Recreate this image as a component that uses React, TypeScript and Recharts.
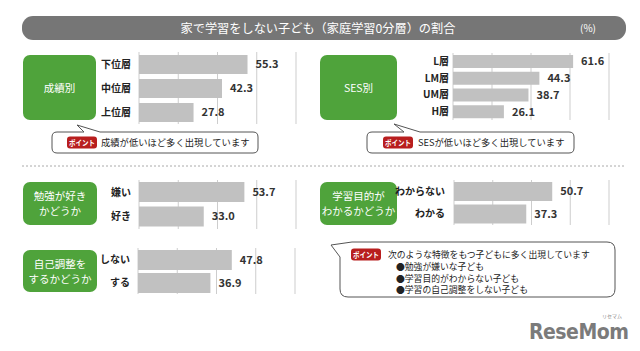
import { BarChart, Bar, XAxis, YAxis, CartesianGrid, LabelList } from 'recharts'

const gradeLabels = ['下位層', '中位層', '上位層']
const gradeValues = [55.3, 42.3, 27.8]

const sesLabels = ['L層', 'LM層', 'UM層', 'H層']
const sesValues = [61.6, 44.3, 38.7, 26.1]

const likeLabels = ['嫌い', '好き']
const likeValues = [53.7, 33.0]

const purposeLabels = ['わからない', 'わかる']
const purposeValues = [50.7, 37.3]

const selfLabels = ['しない', 'する']
const selfValues = [47.8, 36.9]

const axisTicks = [0, 20, 40, 60, 80]
const axisMax = 80

const GREEN = '#4fa33b'
const FONT = "'Noto Sans CJK JP', 'Noto Sans', sans-serif"

interface PanelProps {
  labels: string[]
  values: number[]
  x: number
  y: number
  h: number
  plotW: number
  barSize: number
  labelGap: number
}

// vertical grid at every tick, through the x axis scale (falls back to the plot box)
const gridX = (props: any) => {
  const sc = props?.xAxis?.scale
  if (typeof sc === 'function') {
    const pts = axisTicks.map((t) => sc(t))
    if (pts.every((p) => Number.isFinite(p))) return pts
  }
  const off = props.offset
  return axisTicks.map((t) => off.left + (t / axisMax) * off.width)
}

const BlankTick = () => <g />

function Panel({ labels, values, x, y, h, plotW, barSize, labelGap }: PanelProps) {
  const data = labels.map((name, i) => ({ name, value: values[i] }))
  const yW = 70
  return (
    <div style={{ position: 'absolute', left: x - yW, top: y }}>
      <BarChart
        width={yW + plotW + 40}
        height={h}
        data={data}
        layout="vertical"
        margin={{ top: 0, right: 40, bottom: 0, left: 0 }}
      >
        <CartesianGrid horizontal={false} stroke="#cdcdcd" verticalCoordinatesGenerator={gridX} />
        <XAxis
          type="number"
          domain={[0, axisMax]}
          ticks={axisTicks}
          interval={0}
          height={0}
          tick={BlankTick}
          axisLine={false}
          tickLine={false}
        />
        <YAxis
          type="category"
          dataKey="name"
          width={yW}
          interval={0}
          axisLine={false}
          tickLine={false}
          tickSize={0}
          tickMargin={labelGap}
          tick={{ fontSize: 10, fill: '#222', fontWeight: 700 }}
        />
        <Bar dataKey="value" fill="#c1c1c1" barSize={barSize} isAnimationActive={false}>
          <LabelList
            dataKey="value"
            position="right"
            offset={8}
            formatter={(v: any) => Number(v).toFixed(1)}
            style={{ fontSize: 11, fontWeight: 700, fill: '#333' }}
          />
        </Bar>
      </BarChart>
    </div>
  )
}

function roundedTopTail(x: number, y: number, w: number, h: number, r: number, t1: number, tx: number, ty: number, t2: number) {
  return `M ${x + r} ${y} L ${t1} ${y} L ${tx} ${ty} L ${t2} ${y} L ${x + w - r} ${y} Q ${x + w} ${y} ${x + w} ${y + r} L ${x + w} ${y + h - r} Q ${x + w} ${y + h} ${x + w - r} ${y + h} L ${x + r} ${y + h} Q ${x} ${y + h} ${x} ${y + h - r} L ${x} ${y + r} Q ${x} ${y} ${x + r} ${y} Z`
}

function Pill({ x, y }: { x: number; y: number }) {
  return (
    <g>
      <rect x={x} y={y} width={30} height={12} rx={3} fill="#b81e1e" />
      <text x={x + 2} y={y + 9} fontSize={7.5} fontWeight={700} fill="#fff" textLength={26} lengthAdjust="spacingAndGlyphs">ポイント</text>
    </g>
  )
}

function GreenBox({ x, y, w, h, lines }: { x: number; y: number; w: number; h: number; lines: string[] }) {
  const cy = y + h / 2
  const lh = 15
  return (
    <g>
      <rect x={x} y={y} width={w} height={h} rx={7} fill={GREEN} />
      {lines.map((t, i) => (
        <text key={i} x={x + w / 2} y={cy + (i - (lines.length - 1) / 2) * lh + 4} textAnchor="middle" fontSize={10.5} fill="#fff">
          {t}
        </text>
      ))}
    </g>
  )
}

export default function App() {
  const c3x = 340
  const c3y = 242
  const c3w = 275
  const c3h = 55
  const r3 = 8
  const callout3 = `M 352 ${c3y} L ${c3x + c3w - r3} ${c3y} Q ${c3x + c3w} ${c3y} ${c3x + c3w} ${c3y + r3} L ${c3x + c3w} ${c3y + c3h - r3} Q ${c3x + c3w} ${c3y + c3h} ${c3x + c3w - r3} ${c3y + c3h} L ${c3x + r3} ${c3y + c3h} Q ${c3x} ${c3y + c3h} ${c3x} ${c3y + c3h - r3} L ${c3x} 257 L 331 245 Z`

  return (
    <div style={{ position: 'absolute', left: 0, top: 0, width: 640, height: 351, background: '#fff', fontFamily: FONT, overflow: 'hidden' }}>
      <svg width={640} height={351} style={{ position: 'absolute', left: 0, top: 0 }} fontFamily={FONT}>
        <rect x={22} y={16} width={604} height={24} rx={11} fill="#767676" />
        <text x={318} y={32.5} textAnchor="middle" fontSize={12.2} fill="#fff">家で学習をしない子ども（家庭学習0分層）の割合</text>
        <text x={588} y={32} textAnchor="middle" fontSize={10} fill="#fff">(%)</text>

        <GreenBox x={23} y={55} w={73} h={65} lines={['成績別']} />
        <GreenBox x={320} y={55} w={77} h={65} lines={['SES別']} />
        <GreenBox x={23} y={182} w={74} h={43} lines={['勉強が好き', 'かどうか']} />
        <GreenBox x={23} y={250} w={74} h={42} lines={['自己調整を', 'するかどうか']} />
        <GreenBox x={320} y={182} w={77} h={43} lines={['学習目的が', 'わかるかどうか']} />

        <path d={roundedTopTail(52, 132, 206, 21, 5, 84, 77, 125, 100)} fill="#fff" stroke="#555" strokeWidth={1} />
        <Pill x={67} y={136.5} />
        <text x={101} y={146} fontSize={9.3} fill="#222">成績が低いほど多く出現しています</text>

        <path d={roundedTopTail(367, 132, 207, 21, 5, 404, 394, 124, 420)} fill="#fff" stroke="#555" strokeWidth={1} />
        <Pill x={383} y={136.5} />
        <text x={418} y={146} fontSize={9.3} fill="#222">SESが低いほど多く出現しています</text>

        <line x1={22} y1={166} x2={626} y2={166} stroke="#aaa" strokeDasharray="2 2" />

        <path d={callout3} fill="#fff" stroke="#555" strokeWidth={1} />
        <Pill x={351} y={248.5} />
        <text x={388} y={257.5} fontSize={8.8} fill="#222">次のような特徴をもつ子どもに多く出現しています</text>
        <text x={396} y={269.5} fontSize={8.8} fill="#222">●勉強が嫌いな子ども</text>
        <text x={396} y={281.5} fontSize={8.8} fill="#222">●学習目的がわからない子ども</text>
        <text x={396} y={293} fontSize={8.8} fill="#222">●学習の自己調整をしない子ども</text>

        <text x={529} y={339} fontSize={21} fontWeight={700} fill="#7b7b7b" fontFamily="'DejaVu Sans Condensed', 'DejaVu Sans', sans-serif" letterSpacing={-0.5}>ReseMom</text>
        <text x={612} y={318} textAnchor="middle" fontSize={5} fill="#888">リセマム</text>
      </svg>

      <Panel labels={gradeLabels} values={gradeValues} x={139} y={52} h={72} plotW={157} barSize={19} labelGap={8} />
      <Panel labels={sesLabels} values={sesValues} x={453} y={53} h={67} plotW={156} barSize={13} labelGap={4} />
      <Panel labels={likeLabels} values={likeValues} x={139} y={180} h={49} plotW={157} barSize={20} labelGap={8} />
      <Panel labels={selfLabels} values={selfValues} x={138} y={248} h={46} plotW={157} barSize={20} labelGap={8} />
      <Panel labels={purposeLabels} values={purposeValues} x={454} y={180} h={45} plotW={155} barSize={19} labelGap={9} />
    </div>
  )
}
